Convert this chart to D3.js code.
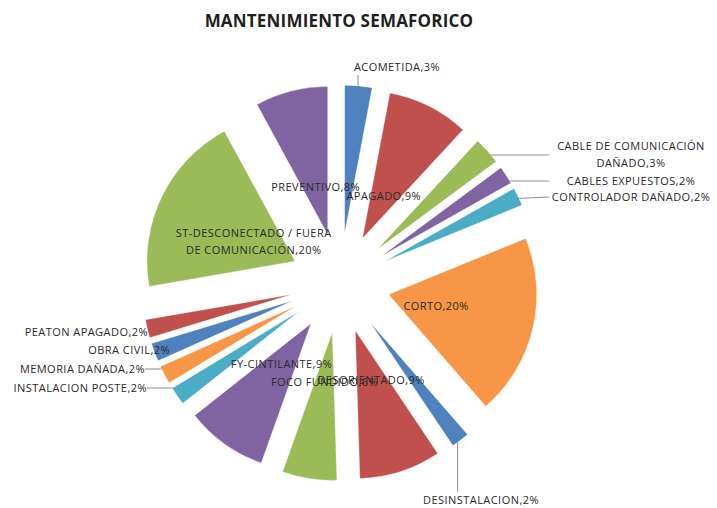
<!DOCTYPE html>
<html>
<head>
<meta charset="utf-8">
<script src="https://cdn.jsdelivr.net/npm/d3@7"></script>
<style>
  html, body { margin: 0; padding: 0; background: #ffffff; }
  svg { display: block; }
</style>
</head>
<body>
<div id="chart"></div>
<script>
// Fault categories and their share of maintenance calls (%)
const categories = [
  "ACOMETIDA", "APAGADO", "CABLE DE COMUNICACIÓN DAÑADO", "CABLES EXPUESTOS",
  "CONTROLADOR DAÑADO", "CORTO", "DESINSTALACION", "DESORIENTADO",
  "FOCO FUNDIDO", "FY-CINTILANTE", "INSTALACION POSTE", "MEMORIA DAÑADA",
  "OBRA CIVIL", "PEATON APAGADO", "ST-DESCONECTADO / FUERA DE COMUNICACIÓN", "PREVENTIVO"
];
const shares = [3, 9, 3, 2, 2, 20, 2, 9, 6, 9, 2, 2, 2, 2, 20, 8];
const palette = ["#4F81BD", "#C0504D", "#9BBB59", "#8064A2", "#4BACC6", "#F79646"];

// Label placement: inside labels sit at a fraction k of the radius along the
// slice bisector; outside labels get a text anchor and a leader line.
const labelPlacement = [
  { out: true, x: 397, y: 67, anchor: "middle", leader: "up" },
  { k: 0.32 },
  { out: true, x: 631, y: 155, anchor: "middle", leaderX: 549, wrap: ["CABLE DE COMUNICACIÓN", "DAÑADO"] },
  { out: true, x: 631, y: 181, anchor: "middle", leaderX: 549 },
  { out: true, x: 631, y: 197, anchor: "middle", leaderX: 549 },
  { k: 0.33 },
  { out: true, x: 481, y: 500, anchor: "middle", leader: "down" },
  { k: 0.35 },
  { k: 0.34 },
  { k: 0.34 },
  { out: true, x: 147, y: 388, anchor: "end", leaderX: 147 },
  { out: true, x: 145, y: 369, anchor: "end", leaderX: 145 },
  { out: true, x: 170, y: 350, anchor: "end", leaderX: 170 },
  { out: true, x: 148, y: 332, anchor: "end", leaderX: 148 },
  { k: 0.31, wrap: ["ST-DESCONECTADO / FUERA", "DE COMUNICACIÓN"] },
  { k: 0.33 }
];

const W = 717, H = 508;
const cx = 340, cy = 283, R = 148, explode = 50;
const FONT = "'Open Sans', 'DejaVu Sans', sans-serif";

const svg = d3.select("#chart").append("svg")
  .attr("width", W).attr("height", H);

svg.append("text")
  .attr("x", 339).attr("y", 27)
  .attr("text-anchor", "middle")
  .attr("font-family", FONT)
  .attr("font-weight", 700)
  .attr("font-size", 17)
  .attr("letter-spacing", 0.2)
  .attr("fill", "#1f1f1f")
  .text("MANTENIMIENTO SEMAFORICO");

const data = categories.map((c, i) => ({ name: c, value: shares[i], idx: i }));
const pie = d3.pie().value(d => d.value).sort(null).startAngle(0).endAngle(2 * Math.PI);
const arcs = pie(data);
const arcGen = d3.arc().innerRadius(0).outerRadius(R);
const color = d3.scaleOrdinal().domain(d3.range(categories.length)).range(palette);

// tip of each exploded slice and a point along its bisector
const mid = a => (a.startAngle + a.endAngle) / 2;
const tip = a => [cx + explode * Math.sin(mid(a)), cy - explode * Math.cos(mid(a))];
const along = (a, t) => {
  const [tx, ty] = tip(a);
  return [tx + t * Math.sin(mid(a)), ty - t * Math.cos(mid(a))];
};

// leader lines (drawn under the slices)
const leaders = svg.append("g").attr("stroke", "#8c8c8c").attr("stroke-width", 1).attr("fill", "none");
arcs.forEach((a, i) => {
  const p = labelPlacement[i];
  if (!p.out) return;
  if (p.leader === "up" || p.leader === "down") {
    const [sx, sy] = along(a, R * 0.97);
    const ey = p.leader === "up" ? p.y + 8 : p.y - 8;
    leaders.append("path").attr("d", d3.line()([[sx, sy], [sx, ey]]));
  } else {
    const [, ty] = tip(a);
    const c = Math.cos(mid(a));
    let t = Math.abs(c) > 1e-6 ? (ty - p.y) / c : R * 0.9;
    t = Math.max(R * 0.5, Math.min(R * 0.97, t));
    const [sx, sy] = along(a, t);
    leaders.append("path").attr("d", d3.line()([[p.leaderX, p.y], [sx, sy]]));
  }
});

// exploded slices
svg.append("g").selectAll("path")
  .data(arcs)
  .join("path")
  .attr("transform", a => `translate(${tip(a)[0]},${tip(a)[1]})`)
  .attr("d", arcGen)
  .attr("fill", a => color(a.data.idx))
  .attr("stroke", "rgba(255,255,255,0.35)")
  .attr("stroke-width", 0.8);

// data labels
const labels = svg.append("g")
  .attr("font-family", FONT)
  .attr("font-size", 11)
  .attr("letter-spacing", 0.45)
  .attr("fill", "#2a2a2a");

arcs.forEach((a, i) => {
  const p = labelPlacement[i];
  const lines = (p.wrap ? p.wrap.slice() : [a.data.name]);
  lines[lines.length - 1] += "," + a.data.value + "%";
  let x, y, anchor;
  if (p.out) {
    x = p.x; y = p.y; anchor = p.anchor;
  } else {
    [x, y] = along(a, R * p.k);
    anchor = "middle";
  }
  const lh = 17;
  const t = labels.append("text")
    .attr("text-anchor", anchor);
  lines.forEach((ln, j) => {
    t.append("tspan")
      .attr("x", x)
      .attr("y", y + (j - (lines.length - 1) / 2) * lh)
      .attr("dy", "0.35em")
      .text(ln);
  });
});
</script>
</body>
</html>
